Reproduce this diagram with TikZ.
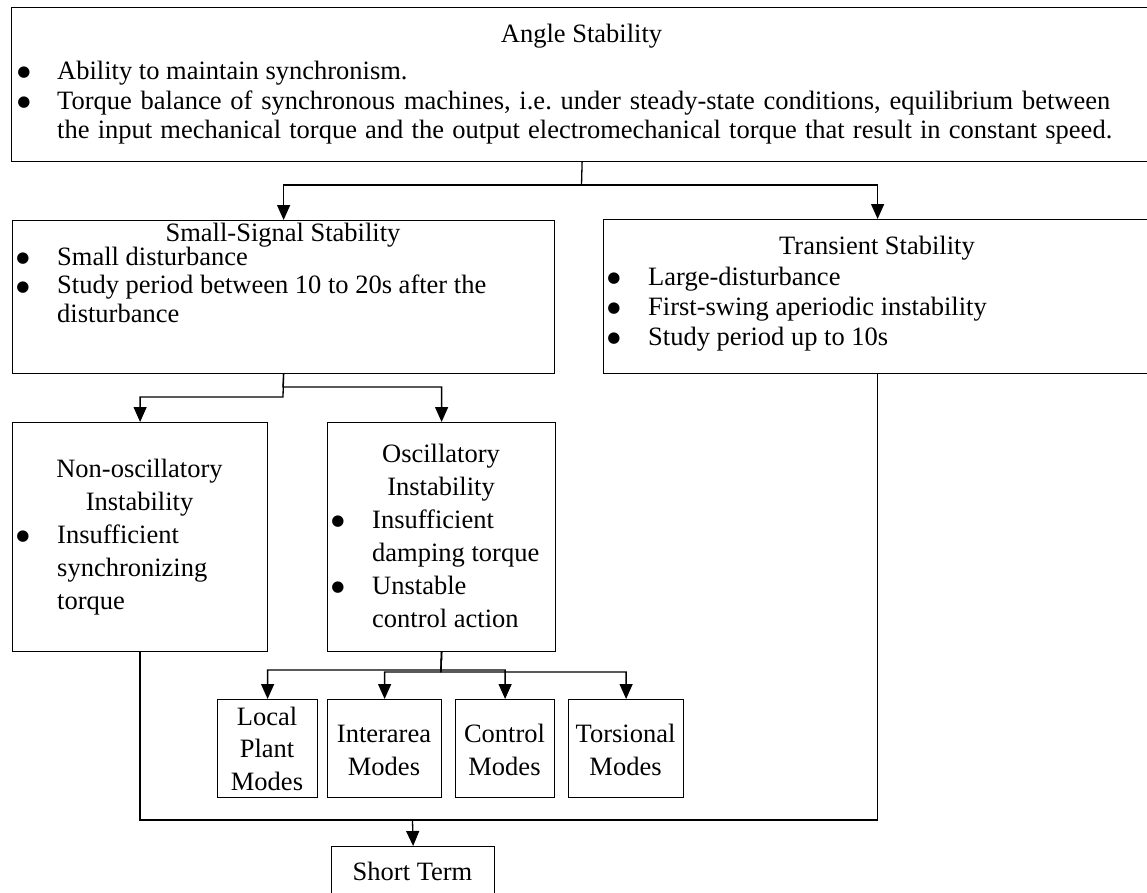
\documentclass[tikz,border=0pt]{standalone}
\usepackage{fontspec}
\setmainfont{Liberation Serif}
\newfontfamily\bulfont{DejaVu Sans}
\usetikzlibrary{arrows.meta}
\newcommand{\bigbul}{{\bulfont\fontsize{15}{15}\selectfont\raisebox{2.5pt}{●}}}
\begin{document}
\begin{tikzpicture}[x=1pt,y=-1pt,
  box/.style={draw, line width=1.2pt, inner sep=0pt, anchor=north west},
  txt/.style={inner sep=0pt, font={\fontsize{26.5}{32}\selectfont\frenchspacing}},
  ln/.style={txt, anchor=base west},
  ttl/.style={txt, anchor=base},
  bul/.style={inner sep=0pt, anchor=base},
  conn/.style={line width=1.3pt},
  arr/.style={conn, -{Triangle[length=15pt,width=13pt]}}]
\useasboundingbox (0,0) rectangle (1147,892);

% boxes
\node[box, minimum width=1141pt, minimum height=154pt] (top) at (11,7) {};
\node[box, minimum width=542pt, minimum height=153pt] (small) at (12,220) {};
\node[box, minimum width=548pt, minimum height=154pt] (trans) at (603,219) {};
\node[box, minimum width=255pt, minimum height=229pt] (nonosc) at (12,422) {};
\node[box, minimum width=228pt, minimum height=229pt] (osc) at (327,422) {};
\node[box, minimum width=100pt, minimum height=98pt] (local) at (217,699) {};
\node[box, minimum width=114pt, minimum height=98pt] (inter) at (327,699) {};
\node[box, minimum width=99pt, minimum height=98pt] (ctrl) at (455,699) {};
\node[box, minimum width=115pt, minimum height=98pt] (tors) at (568,699) {};
\node[box, minimum width=163pt, minimum height=60pt] (short) at (331,846) {};

% top box text
\node[ttl] (topT) at (581.5,42) {Angle Stability};
\node[bul] (topB1) at (24,79) {\bigbul};
\node[ln] (topL1) at (57,79) {Ability to maintain synchronism.};
\node[bul] (topB2) at (24,109) {\bigbul};
\node[ln] (topL2) at (57,109) {\makebox[1053pt][s]{Torque balance of synchronous machines, i.e. under steady-state conditions, equilibrium between}};
\node[ln] (topL3) at (57,138) {\makebox[1055pt][s]{the input mechanical torque and the output electromechanical torque that result in constant speed.}};

% small-signal text
\node[ttl] (smallT) at (283,241) {Small-Signal Stability};
\node[bul] (smallB1) at (23,265) {\bigbul};
\node[ln] (smallL1) at (57,265) {Small disturbance};
\node[bul] (smallB2) at (23,293.5) {\bigbul};
\node[ln] (smallL2) at (57,293.5) {Study period between 10 to 20s after the};
\node[ln] (smallL3) at (57,322) {disturbance};

% transient text
\node[ttl] (transT) at (877,254) {Transient Stability};
\node[bul] (transB1) at (614,285) {\bigbul};
\node[ln] (transL1) at (648,285) {Large-disturbance};
\node[bul] (transB2) at (614,315) {\bigbul};
\node[ln] (transL2) at (648,315) {First-swing aperiodic instability};
\node[bul] (transB3) at (614,345) {\bigbul};
\node[ln] (transL3) at (648,345) {Study period up to 10s};

% non-oscillatory text
\node[ttl] (nonT1) at (139.5,477) {Non-oscillatory};
\node[ttl] (nonT2) at (139.5,510) {Instability};
\node[bul] (nonB1) at (23,543) {\bigbul};
\node[ln] (nonL1) at (57,543) {Insufficient};
\node[ln] (nonL2) at (57,576) {synchronizing};
\node[ln] (nonL3) at (57,609) {torque};

% oscillatory text
\node[ttl] (oscT1) at (441,462) {Oscillatory};
\node[ttl] (oscT2) at (441,495) {Instability};
\node[bul] (oscB1) at (338,528) {\bigbul};
\node[ln] (oscL1) at (372,528) {Insufficient};
\node[ln] (oscL2) at (372,561) {damping torque};
\node[bul] (oscB2) at (338,594) {\bigbul};
\node[ln] (oscL3) at (372,594) {Unstable};
\node[ln] (oscL4) at (372,627) {control action};

% mode texts
\node[ttl] (localT1) at (267,725) {Local};
\node[ttl] (localT2) at (267,757.5) {Plant};
\node[ttl] (localT3) at (267,790) {Modes};
\node[ttl] (interT1) at (384,742) {Interarea};
\node[ttl] (interT2) at (384,775) {Modes};
\node[ttl] (ctrlT1) at (504.5,742) {Control};
\node[ttl] (ctrlT2) at (504.5,775) {Modes};
\node[ttl] (torsT1) at (625.5,742) {Torsional};
\node[ttl] (torsT2) at (625.5,775) {Modes};
\node[ttl] (shortT) at (412.5,880) {Short Term};

% connectors
\coordinate (j1) at (581.5,185);
\draw[conn] (top.south) -- (j1);
\draw[arr] (j1) -| (small.north);
\draw[arr] (j1) -| (trans.north);

\coordinate (j2a) at (283,397);
\coordinate (j2b) at (283,387);
\draw[arr] (small.south) -- (j2a) -| (nonosc.north);
\draw[arr] (small.south) -- (j2b) -| (osc.north);

\coordinate (j3a) at (441,670);
\coordinate (j3b) at (441,672);
\draw[arr] (osc.south) -- (j3a) -| (local.north);
\draw[arr] (osc.south) -- (j3b) -| (inter.north);
\draw[arr] (osc.south) -- (j3a) -| (ctrl.north);
\draw[arr] (osc.south) -- (j3b) -| (tors.north);

\coordinate (j4) at (412.5,820);
\draw[conn] (nonosc.south) |- (j4) -| (trans.south);
\draw[arr] (j4) -- (short.north);
\end{tikzpicture}
\end{document}
